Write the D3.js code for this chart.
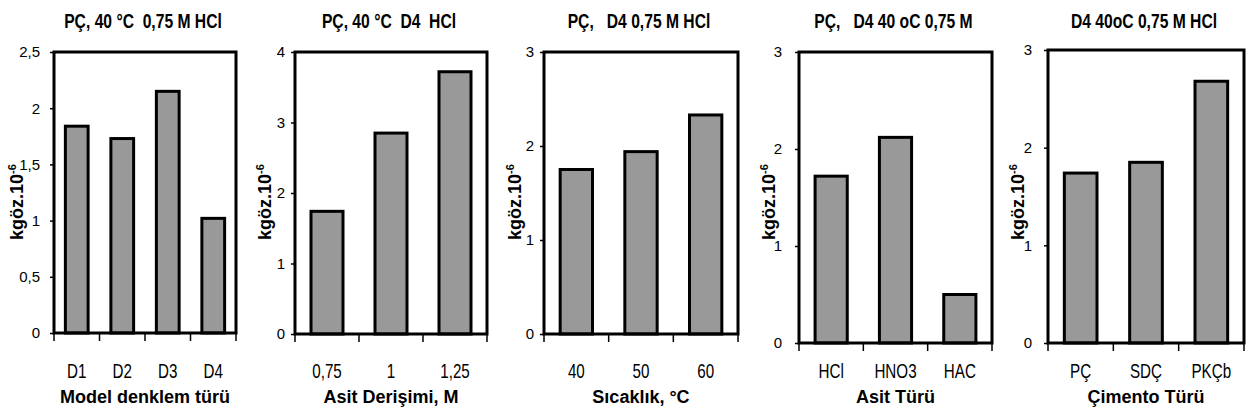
<!DOCTYPE html>
<html>
<head>
<meta charset="utf-8">
<script src="https://cdn.jsdelivr.net/npm/d3@7"></script>
<style>
  body { margin: 0; background: #fff; }
  text { font-family: "Liberation Sans Narrow", "Arial Narrow", "Liberation Sans", Arial, sans-serif; fill: #000; white-space: pre; }
</style>
</head>
<body>
<script>
// chart values
const titles = ['PÇ, 40 °C  0,75 M HCl', 'PÇ, 40 °C  D4  HCl', 'PÇ,   D4 0,75 M HCl', 'PÇ,   D4 40 oC 0,75 M', 'D4 40oC 0,75 M HCl']
const xTitles = ['Model denklem türü', 'Asit Derişimi, M', 'Sıcaklık, °C', 'Asit Türü', 'Çimento Türü']

const cats1 = ['D1', 'D2', 'D3', 'D4']
const vals1 = [1.84, 1.73, 2.15, 1.02]
const cats2 = ['0,75', '1', '1,25']
const vals2 = [1.74, 2.85, 3.72]
const cats3 = ['40', '50', '60']
const vals3 = [1.75, 1.94, 2.33]
const cats4 = ['HCl', 'HNO3', 'HAC']
const vals4 = [1.72, 2.12, 0.5]
const cats5 = ['PÇ', 'SDÇ', 'PKÇb']
const vals5 = [1.74, 1.85, 2.68]

const yMax = [2.5, 4, 3, 3, 3]
const yTicks1 = [0, 0.5, 1, 1.5, 2, 2.5]
const yTicks2 = [0, 1, 2, 3, 4]
const yTicks3 = [0, 1, 2, 3]

const cats = [cats1, cats2, cats3, cats4, cats5]
const vals = [vals1, vals2, vals3, vals4, vals5]
const yTicks = [yTicks1, yTicks2, yTicks3, yTicks3, yTicks3]

// frame boxes of each small chart (pixels)
const frames = [
  {x0: 54, x1: 236, y0: 52, y1: 333, pad: 10, lab: 23},
  {x0: 295, x1: 487, y0: 52, y1: 334, pad: 6, lab: 271},
  {x0: 544, x1: 738, y0: 52, y1: 334, pad: 6, lab: 521},
  {x0: 799, x1: 992, y0: 52, y1: 343, pad: 13, lab: 775},
  {x0: 1048, x1: 1244, y0: 50, y1: 343, pad: 12, lab: 1024}
]

const svg = d3.select('body').append('svg')
  .attr('width', 1247)
  .attr('height', 419)

const fmt = d => String(d).replace('.', ',')

frames.forEach(function (f, i) {
  const g = svg.append('g')

  const x = d3.scaleBand()
    .domain(cats[i])
    .range([f.x0, f.x1])
    .paddingInner(0.5)
    .paddingOuter(0.25)

  const y = d3.scaleLinear()
    .domain([0, yMax[i]])
    .range([f.y1, f.y0])

  // title
  g.append('text')
    .attr('transform', 'translate(' + ((f.x0 + f.x1) / 2 - 2) + ',28) scale(0.87,1.1)')
    .attr('text-anchor', 'middle')
    .style('font-size', '18px')
    .style('font-weight', 'bold')
    .text(titles[i])

  // bars
  g.selectAll('rect.bar')
    .data(vals[i])
    .enter()
    .append('rect')
    .attr('class', 'bar')
    .attr('x', (d, j) => x(cats[i][j]))
    .attr('width', x.bandwidth())
    .attr('y', d => y(d))
    .attr('height', d => y(0) - y(d))
    .attr('fill', '#999999')
    .attr('stroke', '#000')
    .attr('stroke-width', 3)

  // frame
  g.append('rect')
    .attr('x', f.x0)
    .attr('y', f.y0)
    .attr('width', f.x1 - f.x0)
    .attr('height', f.y1 - f.y0)
    .attr('fill', 'none')
    .attr('stroke', '#000')
    .attr('stroke-width', 3)

  // y axis ticks + labels
  const yAxis = g.append('g')
    .attr('transform', 'translate(' + f.x0 + ',0)')
    .call(d3.axisLeft(y).tickValues(yTicks[i]).tickFormat(fmt).tickSize(4).tickPadding(f.pad))
  yAxis.select('.domain').remove()
  yAxis.selectAll('line').attr('stroke', '#000').attr('stroke-width', 1.5)
  yAxis.selectAll('text')
    .style('font-size', '15px')
    .style('font-family', null)

  // x axis: ticks on category boundaries, hanging down
  const bounds = [f.x0].concat(cats[i].map(c => x(c) + x.bandwidth() + x.step() * 0.25))
  g.selectAll('line.xt')
    .data(bounds)
    .enter()
    .append('line')
    .attr('class', 'xt')
    .attr('x1', d => d).attr('x2', d => d)
    .attr('y1', f.y1).attr('y2', f.y1 + 8)
    .attr('stroke', '#000')
    .attr('stroke-width', 1.5)

  g.selectAll('text.cat')
    .data(cats[i])
    .enter()
    .append('text')
    .attr('class', 'cat')
    .attr('text-anchor', 'middle')
    .attr('transform', d => 'translate(' + (x(d) + x.bandwidth() / 2) + ',' + 378 + ') scale(0.95,1.25)')
    .style('font-size', '16px')
    .text(d => d)

  // x title
  g.append('text')
    .attr('x', (f.x0 + f.x1) / 2)
    .attr('y', 403)
    .attr('text-anchor', 'middle')
    .style('font-size', '18px')
    .style('font-weight', 'bold')
    .text(xTitles[i])

  // y title
  const yt = g.append('text')
    .attr('transform', 'translate(' + f.lab + ',' + 202 + ') rotate(-90)')
    .attr('text-anchor', 'middle')
    .style('font-size', '18px')
    .style('font-weight', 'bold')
  yt.append('tspan').text('kgöz.10')
  yt.append('tspan').attr('dy', -7).style('font-size', '11px').text('-6')
})
</script>
</body>
</html>
